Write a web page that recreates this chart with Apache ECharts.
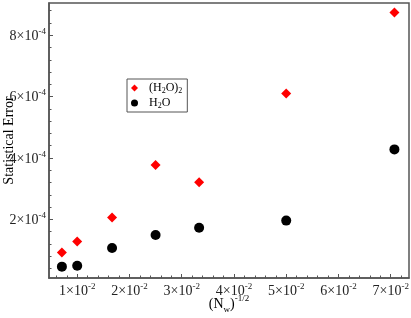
<!DOCTYPE html>
<html>
<head>
<meta charset="utf-8">
<script src="https://cdn.jsdelivr.net/npm/echarts@6/dist/echarts.min.js"></script>
<style>html,body{margin:0;padding:0;background:#fff;}#c{width:411px;height:318px;}</style>
</head>
<body>
<div id="c"></div>
<script>
// Data
const xValues = [0.00707, 0.01, 0.01667, 0.025, 0.03333, 0.05, 0.07071];
const dimerError = [0.92e-4, 1.28e-4, 2.06e-4, 3.77e-4, 3.21e-4, 6.10e-4, 8.74e-4];
const monomerError = [0.46e-4, 0.49e-4, 1.07e-4, 1.49e-4, 1.73e-4, 1.96e-4, 4.28e-4];
const seriesNames = ['(H2O)2', 'H2O'];
const xTickMantissas = [1, 2, 3, 4, 5, 6, 7];   // ×10^-2
const yTickMantissas = [2, 4, 6, 8];            // ×10^-4

const FONT = '"Liberation Serif", "Times New Roman", serif';
const xMin = 0.0046, xMax = 0.0735;
const yMin = 0.09e-4, yMax = 9.05e-4;

const xMajor = xTickMantissas.map(m => m * 1e-2);
const yMajor = yTickMantissas.map(m => m * 1e-4);
const xMinor = [];
for (let i = 3; i <= 36; i++) { if (i % 5 !== 0) xMinor.push(i * 0.2e-2); }
const yMinor = [];
for (let i = 1; i <= 22; i++) { if (i % 5 !== 0) yMinor.push(i * 0.4e-4); }

const labelColor = '#222';
const supRich = {
  m: {fontSize: 14, fontFamily: FONT, color: labelColor, lineHeight: 16, verticalAlign: 'bottom'},
  sup: {fontSize: 9, fontFamily: FONT, color: labelColor, verticalAlign: 'top', lineHeight: 16}
};
const frameColor = '#555';

const dimerData = xValues.map((x, i) => [x, dimerError[i]]);
const monoData = xValues.map((x, i) => [x, monomerError[i]]);

const chart = echarts.init(document.getElementById('c'), null, {renderer: 'canvas'});
chart.setOption({
  animation: false,
  backgroundColor: '#fff',
  textStyle: {fontFamily: FONT},
  grid: {left: 49, top: 3, right: 2, bottom: 40, show: true, borderColor: frameColor, borderWidth: 1.5, backgroundColor: 'transparent', outerBoundsMode: 'none'},
  legend: {
    orient: 'vertical', left: 127, top: 79,
    padding: [2, 5, 2, 4], itemGap: 1, itemWidth: 7, itemHeight: 7,
    borderColor: frameColor, borderWidth: 1, backgroundColor: '#fff',
    data: seriesNames,
    formatter: function (name) {
      return name === '(H2O)2' ? '{sp|}(H{sub|2}O){sub|2}' : '{sp|}H{sub|2}O';
    },
    textStyle: {
      fontFamily: FONT, fontSize: 12, color: '#000', lineHeight: 14,
      rich: {
        sp: {width: 6},
        sub: {fontSize: 8, fontFamily: FONT, verticalAlign: 'bottom', lineHeight: 14}
      }
    }
  },
  xAxis: [{
    type: 'value', min: xMin, max: xMax, position: 'bottom',
    name: '{m|(N}{sub|w}{m|)}{sup|-1/2}', nameLocation: 'middle', nameGap: 16, nameMoveOverlap: false,
    nameTextStyle: {fontFamily: FONT, fontSize: 14, color: '#000', rich: {
      m: {fontSize: 14, fontFamily: FONT, color: '#000', lineHeight: 20, verticalAlign: 'middle'},
      sub: {fontSize: 9, fontFamily: FONT, color: '#000', lineHeight: 20, verticalAlign: 'bottom'},
      sup: {fontSize: 9, fontFamily: FONT, color: '#000', lineHeight: 20, verticalAlign: 'top'}
    }},
    axisLine: {show: true, lineStyle: {color: frameColor, width: 1.5}},
    axisTick: {show: true, inside: true, length: 4, customValues: xMajor, lineStyle: {color: frameColor}},
    axisLabel: {show: true, margin: 4, fontSize: 14, fontFamily: FONT, color: labelColor, customValues: xMajor, rich: supRich,
      formatter: v => '{m|' + Math.round(v * 100) + '×10}{sup|-2}'},
    splitLine: {show: false}
  }, {
    type: 'value', min: xMin, max: xMax, position: 'bottom',
    axisLine: {show: false},
    axisTick: {show: true, inside: true, length: 2.5, customValues: xMinor, lineStyle: {color: frameColor}},
    axisLabel: {show: false},
    splitLine: {show: false}
  }],
  yAxis: [{
    type: 'value', min: yMin, max: yMax, position: 'left',
    name: 'Statistical Error', nameLocation: 'middle', nameGap: 33, nameMoveOverlap: false,
    nameTextStyle: {fontFamily: FONT, fontSize: 14, color: '#000'},
    axisLine: {show: true, lineStyle: {color: frameColor, width: 1.5}},
    axisTick: {show: true, inside: true, length: 4, customValues: yMajor, lineStyle: {color: frameColor}},
    axisLabel: {show: true, margin: 3, fontSize: 14, fontFamily: FONT, color: labelColor, customValues: yMajor, rich: supRich,
      formatter: v => '{m|' + Math.round(v * 1e4) + '×10}{sup|-4}'},
    splitLine: {show: false}
  }, {
    type: 'value', min: yMin, max: yMax, position: 'left',
    axisLine: {show: false},
    axisTick: {show: true, inside: true, length: 2.5, customValues: yMinor, lineStyle: {color: frameColor}},
    axisLabel: {show: false},
    splitLine: {show: false}
  }],
  series: [{
    name: seriesNames[0], type: 'scatter', xAxisIndex: 0, yAxisIndex: 0,
    symbol: 'diamond', symbolSize: 10, itemStyle: {color: '#ff0000', opacity: 1},
    data: dimerData, z: 3
  }, {
    name: seriesNames[1], type: 'scatter', xAxisIndex: 0, yAxisIndex: 0,
    symbol: 'circle', symbolSize: 10, itemStyle: {color: '#000000', opacity: 1},
    data: monoData, z: 3
  }]
});
</script>
</body>
</html>
